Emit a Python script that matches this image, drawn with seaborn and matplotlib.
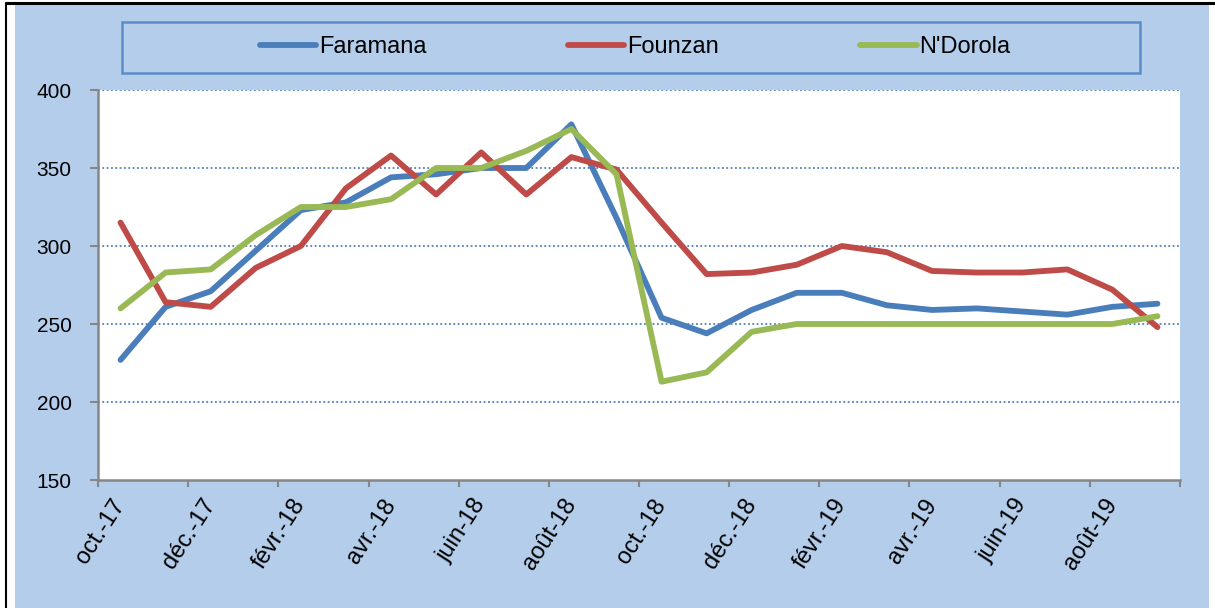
import pandas as pd
import matplotlib.pyplot as plt
from matplotlib.patches import Rectangle
from matplotlib.lines import Line2D
import seaborn as sns

# monthly prices, oct-17 .. sept-19
months = ['oct.-17', 'nov.-17', 'déc.-17', 'janv.-18', 'févr.-18', 'mars-18', 'avr.-18', 'mai-18',
          'juin-18', 'juil.-18', 'août-18', 'sept.-18', 'oct.-18', 'nov.-18', 'déc.-18', 'janv.-19',
          'févr.-19', 'mars-19', 'avr.-19', 'mai-19', 'juin-19', 'juil.-19', 'août-19', 'sept.-19']
faramana = [227, 261, 271, 297, 323, 328, 344, 346, 350, 350, 378, 318,
            254, 244, 259, 270, 270, 262, 259, 260, 258, 256, 261, 263]
founzan = [315, 264, 261, 286, 300, 337, 358, 333, 360, 333, 357, 349,
           315, 282, 283, 288, 300, 296, 284, 283, 283, 285, 272, 248]
ndorola = [260, 283, 285, 307, 325, 325, 330, 350, 350, 361, 375, 346,
           213, 219, 245, 250, 250, 250, 250, 250, 250, 250, 250, 255]
series_names = ['Faramana', 'Founzan', "N'Dorola"]
colors = ['#4A7EBB', '#BE4B48', '#98B954']

bg = '#B3CDEA'
fam = ['Liberation Sans', 'DejaVu Sans']

df = pd.DataFrame({'idx': range(len(months)), 'Faramana': faramana,
                   'Founzan': founzan, "N'Dorola": ndorola})
long_df = df.melt(id_vars='idx', var_name='site', value_name='prix')

sns.set_style('white')
plt.rcParams['font.family'] = fam
plt.rcParams['text.color'] = 'black'
plt.rcParams['xtick.color'] = 'black'
plt.rcParams['ytick.color'] = 'black'

fig = plt.figure(figsize=(12.15, 6.08), dpi=100)
fig.patch.set_facecolor('white')

# light blue chart area and outer black border
fig.patches.append(Rectangle((15 / 1215, 0), (1209 - 15) / 1215, 1 - 4 / 608,
                             transform=fig.transFigure, facecolor=bg, edgecolor='none', zorder=-5))
fig.add_artist(Line2D([6 / 1215, 1], [1 - 3 / 608, 1 - 3 / 608], color='black', lw=2.2,
                      transform=fig.transFigure))
fig.add_artist(Line2D([6 / 1215, 6 / 1215], [0, 1 - 3 / 608], color='black', lw=1.5,
                      transform=fig.transFigure))

ax = fig.add_axes([98 / 1215, 1 - 480 / 608, (1180 - 98) / 1215, (480 - 90) / 608])
ax.set_facecolor('white')

sns.lineplot(data=long_df, x='idx', y='prix', hue='site', palette=colors,
             linewidth=4.2, ax=ax, legend=False, solid_capstyle='round')

ax.set_xlim(-0.5, len(months) - 0.5)
ax.set_ylim(150, 400)
ax.set_xlabel('')
ax.set_ylabel('')

# grid
for v in [200, 250, 300, 350, 400]:
    ax.axhline(v, color='#4F81BD', lw=1.3, linestyle=(0, (1, 1.4)), zorder=0.5)

for s in ['top', 'right']:
    ax.spines[s].set_visible(False)
for s in ['left', 'bottom']:
    ax.spines[s].set_color('#868686')
    ax.spines[s].set_linewidth(1.8)

ax.set_yticks([150, 200, 250, 300, 350, 400])
ax.set_yticklabels(['150', '200', '250', '300', '350', '400'], fontsize=15)
ax.tick_params(axis='y', length=6, width=1.5, color='#868686', labelcolor='black', pad=13, left=True)

# tick marks between categories, labels on every second month
ax.set_xticks([i - 0.5 for i in range(0, len(months) + 1, 2)])
ax.set_xticklabels([])
ax.tick_params(axis='x', which='major', length=5, width=1.5, color='#868686', bottom=True)
ax.set_xticks(list(range(0, len(months), 2)), minor=True)
ax.set_xticklabels(months[::2], minor=True, rotation=57, ha='right', va='center',
                   rotation_mode='anchor', fontsize=17)
ax.tick_params(axis='x', which='minor', length=0, pad=15, labelcolor='black')

# legend box at top
fig.patches.append(Rectangle((122 / 1215, 1 - 73 / 608), (1140 - 122) / 1215, 51 / 608,
                             transform=fig.transFigure, facecolor='none',
                             edgecolor='#5B8CC8', lw=1.8, zorder=3))
handles = [Line2D([], [], color=c, lw=4.2, solid_capstyle='round') for c in colors]
fig.legend(handles, series_names, loc='center', bbox_to_anchor=(635 / 1215, 1 - 47 / 608),
           ncol=3, frameon=False, handlelength=2.4, handletextpad=0.1, columnspacing=6.0,
           prop={'size': 17})

fig.savefig('out.png', dpi=100)
